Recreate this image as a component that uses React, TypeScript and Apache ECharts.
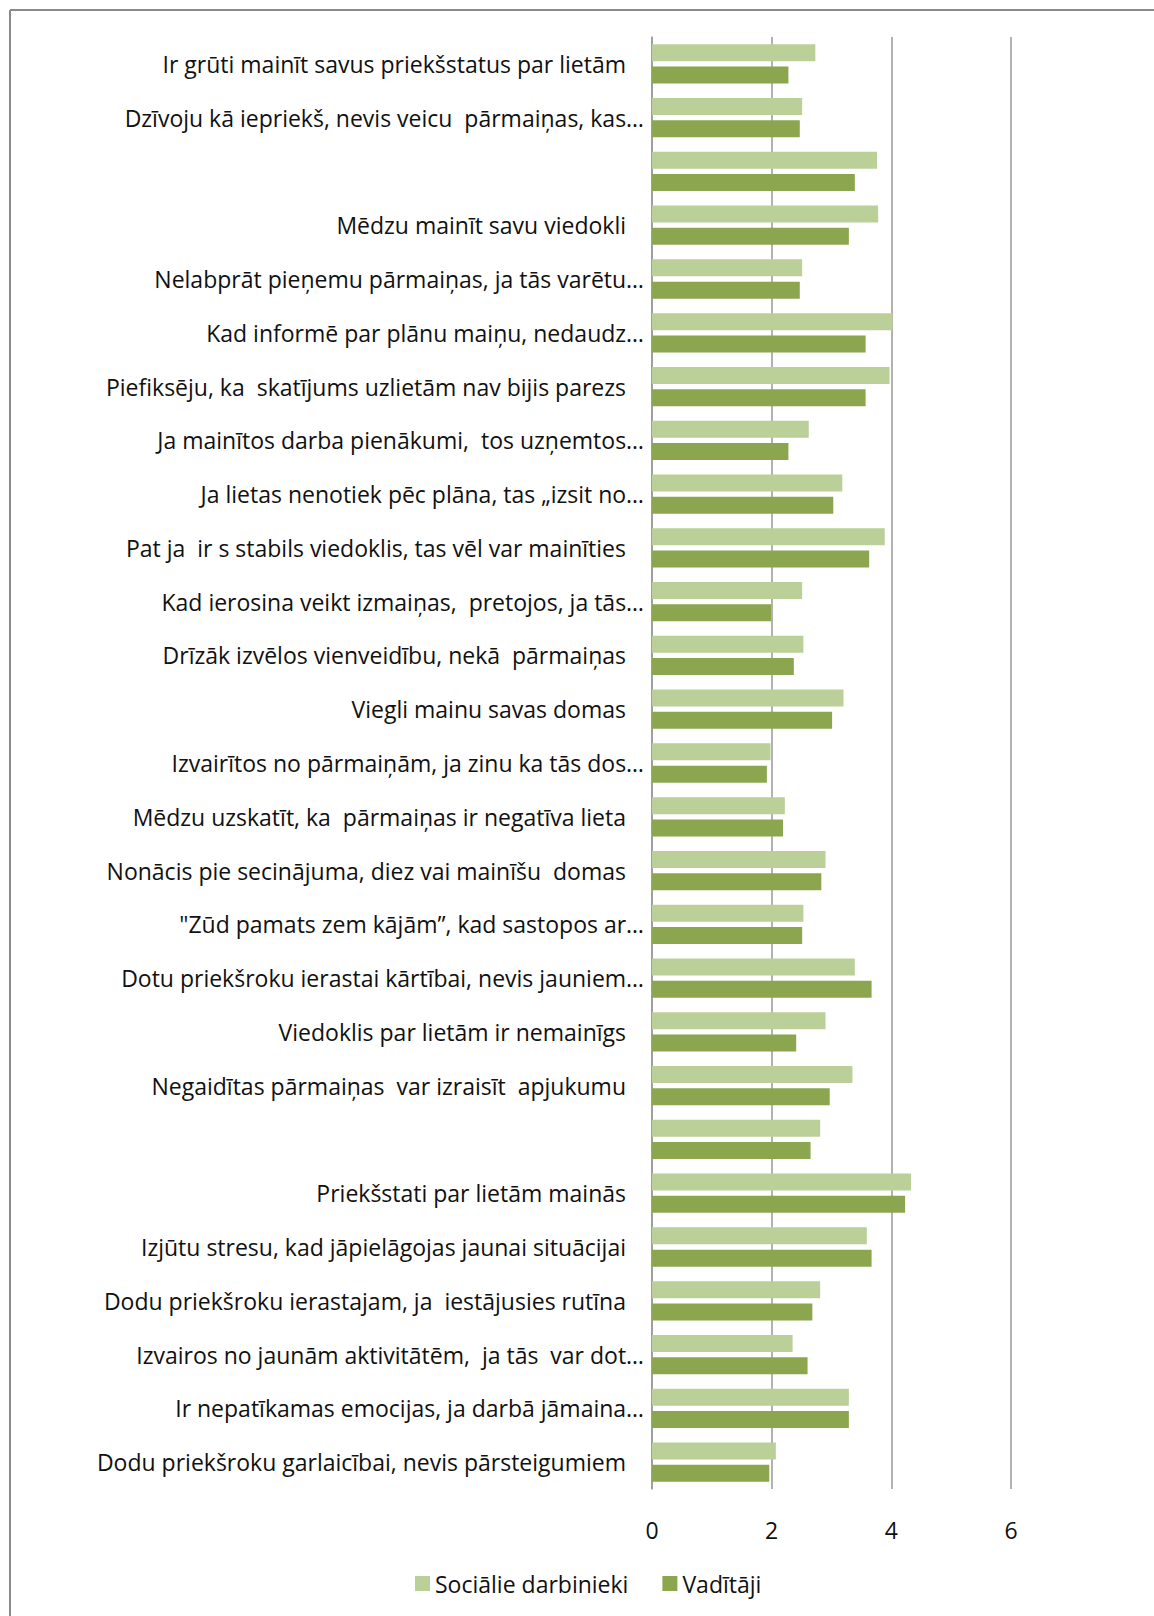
import React, { useEffect, useRef } from "react";
import * as echarts from "echarts";

const categories: string[] = [
  "Ir grūti mainīt savus priekšstatus par lietām",
  "Dzīvoju kā iepriekš, nevis veicu  pārmaiņas, kas…",
  "",
  "Mēdzu mainīt savu viedokli",
  "Nelabprāt pieņemu pārmaiņas, ja tās varētu…",
  "Kad informē par plānu maiņu, nedaudz…",
  "Piefiksēju, ka  skatījums uzlietām nav bijis parezs",
  "Ja mainītos darba pienākumi,  tos uzņemtos…",
  "Ja lietas nenotiek pēc plāna, tas „izsit no…",
  "Pat ja  ir s stabils viedoklis, tas vēl var mainīties",
  "Kad ierosina veikt izmaiņas,  pretojos, ja tās…",
  "Drīzāk izvēlos vienveidību, nekā  pārmaiņas",
  "Viegli mainu savas domas",
  "Izvairītos no pārmaiņām, ja zinu ka tās dos…",
  "Mēdzu uzskatīt, ka  pārmaiņas ir negatīva lieta",
  "Nonācis pie secinājuma, diez vai mainīšu  domas",
  "\"Zūd pamats zem kājām”, kad sastopos ar…",
  "Dotu priekšroku ierastai kārtībai, nevis jauniem…",
  "Viedoklis par lietām ir nemainīgs",
  "Negaidītas pārmaiņas  var izraisīt  apjukumu",
  "",
  "Priekšstati par lietām mainās",
  "Izjūtu stresu, kad jāpielāgojas jaunai situācijai",
  "Dodu priekšroku ierastajam, ja  iestājusies rutīna",
  "Izvairos no jaunām aktivitātēm,  ja tās  var dot…",
  "Ir nepatīkamas emocijas, ja darbā jāmaina…",
  "Dodu priekšroku garlaicībai, nevis pārsteigumiem",
];

const socialieDarbinieki: number[] = [
  2.73, 2.51, 3.76, 3.78, 2.51, 4.02, 3.97, 2.62, 3.18, 3.89, 2.51, 2.53, 3.2, 1.98,
  2.22, 2.9, 2.53, 3.39, 2.9, 3.35, 2.81, 4.33, 3.59, 2.81, 2.35, 3.29, 2.07,
];

const vaditaji: number[] = [
  2.28, 2.47, 3.39, 3.29, 2.47, 3.57, 3.57, 2.28, 3.03, 3.63, 1.99, 2.37, 3.01, 1.92,
  2.19, 2.83, 2.51, 3.67, 2.41, 2.97, 2.65, 4.23, 3.67, 2.68, 2.6, 3.29, 1.96,
];

const seriesNames: string[] = ["Sociālie darbinieki", "Vadītāji"];
const xTicks: number[] = [0, 2, 4, 6];

const FONT = "'Open Sans', sans-serif";

export default function App() {
  const ref = useRef<HTMLDivElement>(null);

  useEffect(() => {
    document.body.style.margin = "0";
    if (!ref.current) return;
    const chart = echarts.init(ref.current, undefined, { renderer: "svg" });
    const option: any = {
      animation: false,
      backgroundColor: "#ffffff",
      textStyle: { fontFamily: FONT },
      grid: { left: 652, right: 143, top: 37, bottom: 127, containLabel: false },
      legend: {
        data: seriesNames,
        left: 410,
        top: 1567,
        itemWidth: 15,
        itemHeight: 15,
        itemGap: 34,
        icon: "rect",
        textStyle: { fontFamily: FONT, fontSize: 23, color: "#111111", padding: [0, 0, 0, 0] },
      },
      xAxis: {
        type: "value",
        min: xTicks[0],
        max: xTicks[xTicks.length - 1],
        interval: xTicks[1] - xTicks[0],
        axisLine: { show: false },
        axisTick: { show: false },
        axisLabel: { fontFamily: FONT, fontSize: 23, color: "#111111", margin: 29 },
        splitLine: { show: true, lineStyle: { color: "#999999", width: 1.5 } },
      },
      yAxis: {
        type: "category",
        inverse: true,
        data: categories,
        axisLine: { show: true, lineStyle: { color: "#999999", width: 1.5 } },
        axisTick: { show: false },
        axisLabel: {
          interval: 0,
          margin: 8,
          fontFamily: FONT,
          fontSize: 23,
          color: "#111111",
          formatter: (v: string) => (v.endsWith("…") || v === "" ? v : `{p|${v}}`),
          rich: {
            p: { fontFamily: FONT, fontSize: 23, color: "#111111", padding: [0, 18, 0, 0] },
          },
        },
      },
      series: [
        {
          name: seriesNames[0],
          type: "bar",
          data: socialieDarbinieki,
          barWidth: 17,
          barGap: "31%",
          itemStyle: { color: "#BBCF99" },
        },
        {
          name: seriesNames[1],
          type: "bar",
          data: vaditaji,
          barWidth: 17,
          barGap: "31%",
          itemStyle: { color: "#8BA64F" },
        },
      ],
      graphic: [
        {
          type: "line",
          shape: { x1: 10, y1: 10, x2: 1154, y2: 10 },
          style: { stroke: "#8a8a8a", lineWidth: 2 },
        },
        {
          type: "line",
          shape: { x1: 10, y1: 10, x2: 10, y2: 1616 },
          style: { stroke: "#8a8a8a", lineWidth: 2 },
        },
      ],
    };
    chart.setOption(option);
    return () => chart.dispose();
  }, []);

  return (
    <div
      ref={ref}
      style={{ position: "absolute", left: 0, top: 0, width: 1154, height: 1616 }}
    />
  );
}
